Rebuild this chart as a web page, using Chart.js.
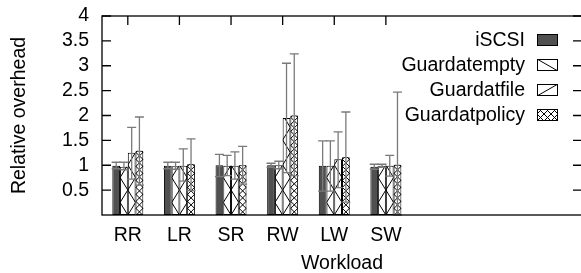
<!DOCTYPE html>
<html>
<head>
<meta charset="utf-8">
<script src="https://cdn.jsdelivr.net/npm/chart.js@4"></script>
<style>
html, body { margin: 0; padding: 0; background: #fff; overflow: hidden; }
</style>
</head>
<body>
<canvas id="grafico" width="584" height="273"></canvas>
<script>
// Workloads and the four configurations
const categories = ['RR', 'LR', 'SR', 'RW', 'LW', 'SW'];
const seriesNames = ['iSCSI', 'Guardatempty', 'Guardatfile', 'Guardatpolicy'];

const iscsi   = [0.99, 0.99, 1.00, 1.00, 0.99, 0.97];
const iscsiLo = [0.93, 0.93, 0.77, 0.96, 0.48, 0.92];
const iscsiHi = [1.06, 1.06, 1.22, 1.04, 1.49, 1.02];

const gEmpty   = [0.97, 0.98, 0.99, 1.00, 0.99, 0.99];
const gEmptyLo = [0.91, 0.92, 0.79, 0.93, 0.48, 0.96];
const gEmptyHi = [1.06, 1.06, 1.20, 1.08, 1.49, 1.02];

const gFile   = [1.25, 0.99, 0.99, 1.95, 1.12, 0.99];
const gFileLo = [0.72, 0.68, 0.72, 0.85, 0.55, 0.78];
const gFileHi = [1.76, 1.33, 1.27, 3.05, 1.67, 1.20];

const gPolicy   = [1.29, 1.02, 1.00, 2.00, 1.16, 1.01];
const gPolicyLo = [0.60, 0.49, 0.62, 0.79, 0.26, 0.00];
const gPolicyHi = [1.97, 1.53, 1.38, 3.24, 2.07, 2.47];

const yTickValues = [0.5, 1, 1.5, 2, 2.5, 3, 3.5, 4];

const FONT = 'Liberation Sans, Arial, Helvetica, sans-serif';
const FONT_SIZE = 19.5;

Chart.defaults.font.family = FONT;
Chart.defaults.font.size = FONT_SIZE;
Chart.defaults.color = '#000';

const toPoints = (vals) => vals.map((v, i) => ({ x: i, y: v }));

// hatch lines inside a bar (gnuplot-like fill patterns)
function hatch(ctx, kind, l, r, t, b) {
    ctx.beginPath();
    if (kind === 'back' || kind === 'fwd') {
        const P = 25;
        const x0 = kind === 'back' ? r : l;
        const x1 = kind === 'back' ? l : r;
        ctx.moveTo(x0, b);
        for (let k = 0; b - k * P > t - P; k++) {
            ctx.lineTo(x1, b - k * P - P / 2);
            ctx.lineTo(x0, b - (k + 1) * P);
        }
    } else if (kind === 'cross') {
        const s = 7, w = r - l;
        for (let c = b + w; c > t - w; c -= s) {
            ctx.moveTo(l, c); ctx.lineTo(r, c - w);
            ctx.moveTo(l, c - w); ctx.lineTo(r, c);
        }
    }
    ctx.stroke();
}

const deco = {
    id: 'deco',
    afterDatasetsDraw(chart) {
        const { ctx, chartArea: a, scales: { x, y } } = chart;
        ctx.save();

        // patterns on the bars
        chart.data.datasets.forEach((ds, di) => {
            if (!ds.hatch) return;
            chart.getDatasetMeta(di).data.forEach(bar => {
                const p = bar.getProps(['x', 'y', 'base', 'width'], true);
                const l = p.x - p.width / 2, r = p.x + p.width / 2;
                ctx.save();
                ctx.beginPath();
                ctx.rect(l, p.y, p.width, p.base - p.y);
                ctx.clip();
                ctx.strokeStyle = '#000';
                ctx.lineWidth = 1;
                hatch(ctx, ds.hatch, l, r, p.y, p.base);
                ctx.restore();
            });
        });

        // error bars
        ctx.strokeStyle = '#7a7a7a';
        ctx.lineWidth = 1.3;
        chart.data.datasets.forEach((ds, di) => {
            chart.getDatasetMeta(di).data.forEach((bar, i) => {
                const px = bar.x;
                const yHi = y.getPixelForValue(ds.errHi[i]);
                const yLo = y.getPixelForValue(ds.errLo[i]);
                ctx.beginPath();
                ctx.moveTo(px, yHi); ctx.lineTo(px, yLo);
                ctx.moveTo(px - 4.5, yHi); ctx.lineTo(px + 4.5, yHi);
                ctx.moveTo(px - 4.5, yLo); ctx.lineTo(px + 4.5, yLo);
                ctx.stroke();
            });
        });

        // frame and inward ticks
        ctx.strokeStyle = '#000';
        ctx.lineWidth = 1.3;
        ctx.strokeRect(a.left, a.top, a.right - a.left, a.bottom - a.top);
        ctx.beginPath();
        yTickValues.forEach(v => {
            const py = y.getPixelForValue(v);
            ctx.moveTo(a.left, py); ctx.lineTo(a.left + 9, py);
            ctx.moveTo(a.right, py); ctx.lineTo(a.right - 9, py);
        });
        categories.forEach((c, i) => {
            const px = x.getPixelForValue(i);
            ctx.moveTo(px, a.top); ctx.lineTo(px, a.top + 9);
        });
        ctx.stroke();

        // legend, text right-aligned before the key
        ctx.font = `${FONT_SIZE}px ${FONT}`;
        ctx.textAlign = 'right';
        ctx.textBaseline = 'middle';
        ctx.fillStyle = '#000';
        chart.data.datasets.forEach((ds, di) => {
            const cy = 40 + 25 * di;
            ctx.fillText(ds.label, 525, cy + 1);
            const l = 537, r = 558, t = cy - 6, b = cy + 6;
            ctx.lineWidth = 1;
            if (!ds.hatch) {
                ctx.fillStyle = ds.backgroundColor;
                ctx.fillRect(l, t, r - l, b - t);
                ctx.fillStyle = '#000';
            } else {
                ctx.save();
                ctx.beginPath(); ctx.rect(l, t, r - l, b - t); ctx.clip();
                ctx.beginPath();
                if (ds.hatch === 'back') { ctx.moveTo(l, t); ctx.lineTo(r, b); ctx.stroke(); }
                else if (ds.hatch === 'fwd') { ctx.moveTo(l, b); ctx.lineTo(r, t); ctx.stroke(); }
                else hatch(ctx, 'cross', l, l + 7, t, b), hatch(ctx, 'cross', l + 7, l + 14, t, b), hatch(ctx, 'cross', l + 14, r, t, b);
                ctx.restore();
            }
            ctx.strokeRect(l + 0.5, t + 0.5, r - l - 1, b - t - 1);
        });

        ctx.restore();
    }
};

new Chart(document.getElementById('grafico'), {
    type: 'bar',
    data: {
        datasets: [
            { label: seriesNames[0], data: toPoints(iscsi), errLo: iscsiLo, errHi: iscsiHi,
              backgroundColor: '#505050' },
            { label: seriesNames[1], data: toPoints(gEmpty), errLo: gEmptyLo, errHi: gEmptyHi,
              backgroundColor: '#fff', hatch: 'back' },
            { label: seriesNames[2], data: toPoints(gFile), errLo: gFileLo, errHi: gFileHi,
              backgroundColor: '#fff', hatch: 'fwd' },
            { label: seriesNames[3], data: toPoints(gPolicy), errLo: gPolicyLo, errHi: gPolicyHi,
              backgroundColor: '#fff', hatch: 'cross' }
        ].map(ds => ({ ...ds, borderColor: '#000', borderWidth: 1, borderSkipped: false,
                       categoryPercentage: 0.6, barPercentage: 1.0 }))
    },
    options: {
        responsive: false,
        animation: false,
        layout: { padding: { top: 16, right: 2, left: 0, bottom: 0 } },
        plugins: { legend: { display: false }, tooltip: { enabled: false } },
        scales: {
            x: {
                type: 'linear',
                min: -0.5,
                max: 8.8,
                offset: false,
                grid: { display: false, drawTicks: false },
                border: { display: false },
                afterBuildTicks: (s) => { s.ticks = categories.map((c, i) => ({ value: i })); },
                afterFit: (s) => { s.height = 58; s.paddingLeft = 0; s.paddingRight = 0; },
                ticks: {
                    autoSkip: false, maxRotation: 0, padding: 10.5,
                    font: { size: FONT_SIZE, lineHeight: 1 },
                    callback: (v) => categories[v] ?? ''
                },
                title: { display: true, text: 'Workload', padding: { top: 0, bottom: 0 },
                         font: { size: FONT_SIZE, lineHeight: 1 } }
            },
            y: {
                min: 0,
                max: 4,
                grid: { display: false, drawTicks: false },
                border: { display: false },
                afterBuildTicks: (s) => { s.ticks = yTickValues.map(v => ({ value: v })); },
                afterFit: (s) => { s.width = 102; s.paddingTop = 0; s.paddingBottom = 0; },
                ticks: { padding: 13, callback: (v) => String(v) },
                title: { display: true, text: 'Relative overhead', padding: { top: 10, bottom: 0 },
                         font: { size: FONT_SIZE, lineHeight: 1 } }
            }
        }
    },
    plugins: [deco]
});
</script>
</body>
</html>
